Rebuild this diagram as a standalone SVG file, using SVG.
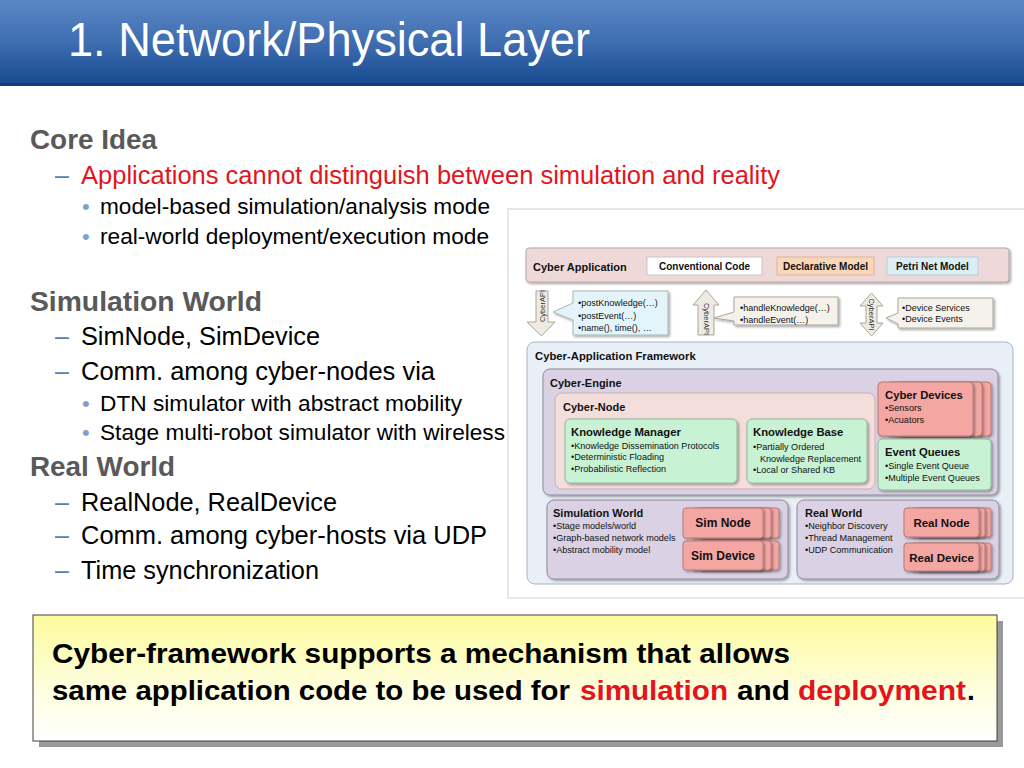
<svg xmlns="http://www.w3.org/2000/svg" width="1024" height="768" viewBox="0 0 1024 768">
<defs>
<linearGradient id="titleg" x1="0" y1="0" x2="0" y2="1">
<stop offset="0" stop-color="#5a87c5"/>
<stop offset="0.5" stop-color="#3e6db0"/>
<stop offset="1" stop-color="#16488f"/>
</linearGradient>
<linearGradient id="yellowg" x1="0" y1="0" x2="0" y2="1">
<stop offset="0" stop-color="#fdfb9c"/>
<stop offset="0.6" stop-color="#fefee0"/>
<stop offset="1" stop-color="#ffffff"/>
</linearGradient>
<filter id="sh" x="-10%" y="-10%" width="130%" height="140%">
<feDropShadow dx="1.5" dy="1.5" stdDeviation="1" flood-color="#000" flood-opacity="0.35"/>
</filter>
<style>
.hd{font-family:"Liberation Sans",Arial,sans-serif;font-weight:bold;font-size:27px;fill:#595959}
.l2{font-family:"Liberation Sans",Arial,sans-serif;font-size:25px;fill:#000}
.l3{font-family:"Liberation Sans",Arial,sans-serif;font-size:22px;fill:#000}
.dash{fill:#4f81bd}
.bul{fill:#7f9fcf}
.d{font-family:"Liberation Sans",Arial,sans-serif;fill:#111}
.db{font-family:"Liberation Sans",Arial,sans-serif;font-weight:bold;fill:#111}
.t11{font-size:11px}
.t12{font-size:11.3px}
.s{font-size:9.1px}
.c{font-size:9px}
.mint{fill:#c8f2d4;stroke:#8fb89a;stroke-width:1}
.red{fill:#f4a6a3;stroke:#b57a77;stroke-width:1}
.lav{fill:#dad1e4;stroke:#8e8a99;stroke-width:1}
.arr{fill:#edebe2;stroke:#a8a69c;stroke-width:1}
.cap{font-family:"Liberation Sans",Arial,sans-serif;font-size:7.5px;fill:#333}
.yb{font-family:"Liberation Sans",Arial,sans-serif;font-weight:bold;font-size:28px;fill:#000}
</style>
</defs>

<rect x="0" y="0" width="1024" height="768" fill="#ffffff"/>

<g id="title">
<rect x="0" y="0" width="1024" height="86" fill="url(#titleg)"/>
<rect x="0" y="83" width="1024" height="3" fill="#0c3d7c"/>
<text x="68" y="56" font-family="Liberation Sans, Arial, sans-serif" font-size="48" fill="#ffffff" textLength="522" lengthAdjust="spacingAndGlyphs">1. Network/Physical Layer</text>
</g>

<g id="left-text">
<text class="hd" x="30" y="149" textLength="127" lengthAdjust="spacingAndGlyphs">Core Idea</text>
<text class="l2 dash" x="55" y="184">–</text>
<text class="l2" x="81" y="184" style="fill:#e3141c" textLength="699" lengthAdjust="spacingAndGlyphs">Applications cannot distinguish between simulation and reality</text>
<text class="l3 bul" x="82" y="214">•</text>
<text class="l3" x="100" y="214" textLength="390" lengthAdjust="spacingAndGlyphs">model-based simulation/analysis mode</text>
<text class="l3 bul" x="82" y="244">•</text>
<text class="l3" x="100" y="244" textLength="389" lengthAdjust="spacingAndGlyphs">real-world deployment/execution mode</text>
<text class="hd" x="30" y="311" textLength="232" lengthAdjust="spacingAndGlyphs">Simulation World</text>
<text class="l2 dash" x="55" y="345">–</text>
<text class="l2" x="81" y="345" textLength="239" lengthAdjust="spacingAndGlyphs">SimNode, SimDevice</text>
<text class="l2 dash" x="55" y="380">–</text>
<text class="l2" x="81" y="380" textLength="354" lengthAdjust="spacingAndGlyphs">Comm. among cyber-nodes via</text>
<text class="l3 bul" x="82" y="411">•</text>
<text class="l3" x="100" y="411" textLength="362" lengthAdjust="spacingAndGlyphs">DTN simulator with abstract mobility</text>
<text class="l3 bul" x="82" y="440">•</text>
<text class="l3" x="100" y="440" textLength="405" lengthAdjust="spacingAndGlyphs">Stage multi-robot simulator with wireless</text>
<text class="hd" x="30" y="476" textLength="145" lengthAdjust="spacingAndGlyphs">Real World</text>
<text class="l2 dash" x="55" y="511">–</text>
<text class="l2" x="81" y="511" textLength="256" lengthAdjust="spacingAndGlyphs">RealNode, RealDevice</text>
<text class="l2 dash" x="55" y="544">–</text>
<text class="l2" x="81" y="544" textLength="406" lengthAdjust="spacingAndGlyphs">Comm. among cyber-hosts via UDP</text>
<text class="l2 dash" x="55" y="579">–</text>
<text class="l2" x="81" y="579" textLength="238" lengthAdjust="spacingAndGlyphs">Time synchronization</text>
</g>

<g id="diagram-frame">
<rect x="508" y="209" width="530" height="389" fill="#ffffff" stroke="#cfcfcf" stroke-width="1"/>
</g>

<g id="cyber-application">
<rect x="526" y="248" width="483" height="34" rx="3" fill="#eed9d8" stroke="#b5a5a4" filter="url(#sh)"/>
<text class="db t11" x="533" y="271">Cyber Application</text>
</g>
<g id="conventional-code">
<rect x="647" y="257" width="115" height="18" fill="#ffffff" stroke="#c9c4c4"/>
<text class="db" font-size="10" x="704.5" y="270" text-anchor="middle">Conventional Code</text>
</g>
<g id="declarative-model">
<rect x="777" y="257" width="97" height="18" fill="#fbd6b8" stroke="#d8b69a"/>
<text class="db" font-size="10" x="825.5" y="270" text-anchor="middle">Declarative Model</text>
</g>
<g id="petri-net-model">
<rect x="887" y="257" width="91" height="18" fill="#dceef5" stroke="#b9cdd5"/>
<text class="db" font-size="10" x="932.5" y="270" text-anchor="middle">Petri Net Model</text>
</g>

<g id="connectors">
<path class="arr" d="M536,291 H548 V322 H555 L541.5,336 L527,322 H536 Z"/>
<text class="cap" transform="rotate(-90 542 306)" x="542" y="308.5" text-anchor="middle">CyberAPI</text>
<path class="arr" d="M706,290 L719,305 H714 V335 H698 V305 H693 Z"/>
<text class="cap" transform="rotate(90 706 319)" x="706" y="321.5" text-anchor="middle">CyberAPI</text>
<path class="arr" d="M871.5,293 L883,306 H877 V323 H883 L871.5,336 L860,323 H866 V306 H860 Z"/>
<text class="cap" transform="rotate(90 871.5 314.5)" x="871.5" y="317" text-anchor="middle">CyberAPI</text>
</g>

<g id="callout-post">
<path d="M573,291 H668 V335 H573 V320 L553,312 L573,303 Z" fill="#e3f5fb" stroke="#a9b4b8" filter="url(#sh)"/>
<text class="d c" x="578" y="306">•postKnowledge(…)</text>
<text class="d c" x="578" y="319">•postEvent(…)</text>
<text class="d c" x="578" y="331">•name(), time(), …</text>
</g>
<g id="callout-handle">
<path d="M734,297 H838 V325 H734 V321 L714,318 L734,312 Z" fill="#f4f2ea" stroke="#aaa79c" filter="url(#sh)"/>
<text class="d c" x="740" y="311">•handleKnowledge(…)</text>
<text class="d c" x="740" y="323">•handleEvent(…)</text>
</g>
<g id="callout-device">
<path d="M898,298 H993 V328 H898 V324 L886,318 L898,313 Z" fill="#f4f2ea" stroke="#aaa79c" filter="url(#sh)"/>
<text class="d c" x="902" y="311">•Device Services</text>
<text class="d c" x="902" y="322">•Device Events</text>
</g>

<g id="cyber-application-framework">
<rect x="527" y="342" width="486" height="242" rx="8" fill="#e8eff6" stroke="#a9b5c2"/>
<text class="db" font-size="11.3" x="535" y="360">Cyber-Application Framework</text>
</g>

<g id="cyber-engine">
<rect x="543" y="369" width="455" height="126" rx="7" class="lav" filter="url(#sh)"/>
<text class="db t11" x="550" y="387">Cyber-Engine</text>
</g>

<g id="cyber-node">
<rect x="555" y="393" width="320" height="96" rx="7" fill="#f3dedc" stroke="#c9b0ae"/>
<text class="db t11" x="563" y="411">Cyber-Node</text>
</g>

<g id="knowledge-manager">
<rect x="565" y="419" width="172" height="64" rx="5" class="mint" filter="url(#sh)"/>
<text class="db t12" x="571" y="436">Knowledge Manager</text>
<text class="d s" x="571" y="449">•Knowledge Dissemination Protocols</text>
<text class="d s" x="571" y="460">•Deterministic Floading</text>
<text class="d s" x="571" y="472">•Probabilistic Reflection</text>
</g>

<g id="knowledge-base">
<rect x="747" y="419" width="120" height="64" rx="5" class="mint" filter="url(#sh)"/>
<text class="db t12" x="753" y="436">Knowledge Base</text>
<text class="d s" x="753" y="450">•Partially Ordered</text>
<text class="d s" x="760" y="462">Knowledge Replacement</text>
<text class="d s" x="753" y="473">•Local or Shared KB</text>
</g>

<g id="cyber-devices">
<rect x="896" y="382" width="95" height="54" rx="4" class="red" filter="url(#sh)"/>
<rect x="887" y="382" width="95" height="54" rx="4" class="red" filter="url(#sh)"/>
<rect x="878" y="382" width="95" height="54" rx="4" class="red" filter="url(#sh)"/>
<text class="db t12" x="885" y="399">Cyber Devices</text>
<text class="d s" x="885" y="411">•Sensors</text>
<text class="d s" x="885" y="423">•Acuators</text>
</g>

<g id="event-queues">
<rect x="878" y="439" width="113" height="51" rx="4" class="mint" filter="url(#sh)"/>
<text class="db t12" x="885" y="456">Event Queues</text>
<text class="d s" x="885" y="469">•Single Event Queue</text>
<text class="d s" x="885" y="481">•Multiple Event Queues</text>
</g>

<g id="simulation-world">
<rect x="547" y="500" width="241" height="79" rx="7" class="lav" filter="url(#sh)"/>
<text class="db t11" x="553" y="517">Simulation World</text>
<text class="d s" x="553" y="529">•Stage models/world</text>
<text class="d s" x="553" y="541">•Graph-based network models</text>
<text class="d s" x="553" y="553">•Abstract mobility model</text>
</g>

<g id="sim-node">
<rect x="699" y="508" width="80" height="30" rx="3" class="red" filter="url(#sh)"/>
<rect x="691" y="508" width="80" height="30" rx="3" class="red" filter="url(#sh)"/>
<rect x="683" y="508" width="80" height="30" rx="3" class="red" filter="url(#sh)"/>
<text class="db" font-size="12" x="723" y="527" text-anchor="middle">Sim Node</text>
</g>

<g id="sim-device">
<rect x="699" y="541" width="80" height="29" rx="3" class="red" filter="url(#sh)"/>
<rect x="691" y="541" width="80" height="29" rx="3" class="red" filter="url(#sh)"/>
<rect x="683" y="541" width="80" height="29" rx="3" class="red" filter="url(#sh)"/>
<text class="db" font-size="12" x="723" y="560" text-anchor="middle">Sim Device</text>
</g>

<g id="real-world">
<rect x="797" y="500" width="202" height="79" rx="7" class="lav" filter="url(#sh)"/>
<text class="db t11" x="805" y="517">Real World</text>
<text class="d s" x="805" y="529">•Neighbor Discovery</text>
<text class="d s" x="805" y="541">•Thread Management</text>
<text class="d s" x="805" y="553">•UDP Communication</text>
</g>

<g id="real-node">
<rect x="916" y="508" width="75" height="29" rx="3" class="red" filter="url(#sh)"/>
<rect x="910" y="508" width="75" height="29" rx="3" class="red" filter="url(#sh)"/>
<rect x="904" y="508" width="75" height="29" rx="3" class="red" filter="url(#sh)"/>
<text class="db" font-size="11.5" x="941.5" y="527" text-anchor="middle">Real Node</text>
</g>

<g id="real-device">
<rect x="916" y="543" width="75" height="28" rx="3" class="red" filter="url(#sh)"/>
<rect x="910" y="543" width="75" height="28" rx="3" class="red" filter="url(#sh)"/>
<rect x="904" y="543" width="75" height="28" rx="3" class="red" filter="url(#sh)"/>
<text class="db" font-size="11.5" x="941.5" y="562" text-anchor="middle">Real Device</text>
</g>

<g id="summary-box">
<rect x="39" y="621" width="964" height="126" fill="#9a9a9a"/>
<rect x="33" y="615" width="964" height="126" fill="url(#yellowg)" stroke="#404040" stroke-width="1"/>
<text class="yb" x="52" y="663" textLength="738" lengthAdjust="spacingAndGlyphs">Cyber-framework supports a mechanism that allows</text>
<text class="yb" x="52" y="700" textLength="518" lengthAdjust="spacingAndGlyphs">same application code to be used for</text>
<text class="yb" x="580" y="700" style="fill:#e3141c" textLength="148" lengthAdjust="spacingAndGlyphs">simulation</text>
<text class="yb" x="737" y="700" textLength="53" lengthAdjust="spacingAndGlyphs">and</text>
<text class="yb" x="798" y="700" style="fill:#e3141c" textLength="168" lengthAdjust="spacingAndGlyphs">deployment</text>
<text class="yb" x="967" y="700">.</text>
</g>
</svg>
